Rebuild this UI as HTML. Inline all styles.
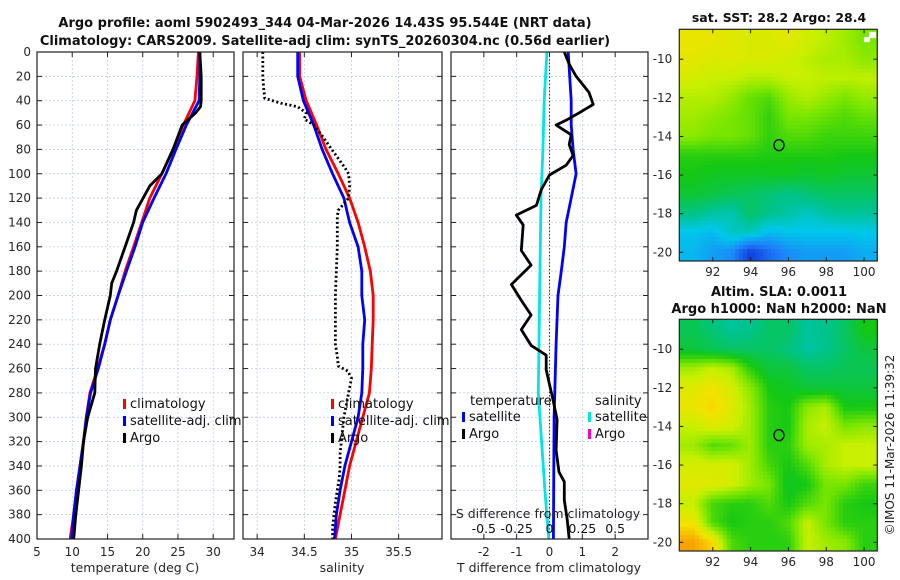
<!DOCTYPE html>
<html><head><meta charset="utf-8">
<style>
body{margin:0;background:#fff;width:900px;height:580px;overflow:hidden;font-family:"DejaVu Sans","Liberation Sans",sans-serif;}
#root{position:relative;width:900px;height:580px;}
svg text{font-family:"DejaVu Sans","Liberation Sans",sans-serif;}
canvas{position:absolute;}
</style></head>
<body><div id="root">
<canvas id="map1" style="left:679px;top:29px" width="198" height="232"></canvas>
<canvas id="map2" style="left:679px;top:319px" width="198" height="232"></canvas>
<svg id="svg" width="900" height="580" style="position:absolute;left:0;top:0"></svg>
</div>
<script>
// ---- data ----
const depthT = [0,20,40,60,80,100,120,140,160,180,200,220,240,260,280,300,320,340,360,380,400];
const tempClim = [27.9,27.7,27.4,25.75,24.3,22.7,21.0,19.85,18.7,17.5,16.5,15.4,14.6,13.6,12.5,12.0,11.6,11.1,10.6,10.2,9.7];
const tempSat = [28.1,28.1,28.0,26.2,24.7,23.3,21.6,20.0,18.9,17.7,16.5,15.4,14.6,13.7,12.6,12.0,11.6,11.1,10.6,10.2,9.9];
const depthArgoT = [0,20,40,45,50,60,80,100,110,130,140,160,180,190,200,220,240,260,280,300,320,340,360,380,400];
const tempArgo = [28.1,28.3,28.3,28.2,27.5,25.6,24.3,22.7,21.0,19.1,18.7,17.5,16.3,15.6,15.4,14.6,13.9,13.3,13.2,12.2,11.6,11.3,10.9,10.5,10.2];
const salClim = [34.45,34.45,34.52,34.63,34.73,34.86,34.98,35.07,35.14,35.2,35.23,35.23,35.22,35.21,35.19,35.12,35.05,34.98,34.93,34.88,34.83];
const salSat = [34.43,34.43,34.49,34.6,34.69,34.8,34.92,34.98,35.07,35.11,35.11,35.14,35.12,35.12,35.11,35.07,35.0,34.93,34.88,34.84,34.82];
const depthArgoS = [0,20,30,38,42,45,50,55,60,70,80,95,100,110,120,130,135,160,200,240,250,258,262,268,280,300,330,340,350,370,390,400];
const salArgo = [34.06,34.06,34.07,34.08,34.25,34.43,34.52,34.5,34.6,34.7,34.79,34.93,34.97,34.98,34.97,34.86,34.85,34.85,34.83,34.83,34.85,34.86,34.96,35.0,34.97,34.92,34.88,34.88,34.87,34.83,34.8,34.8];
const depthDiff = [0,10,20,33,43,50,56,60,68,76,85,93,101,113,126,134,142,163,175,183,191,204,216,228,241,249,261,273,286,302,327,345,353,368,384,400];
const tDiffArgo = [0.45,0.6,0.81,1.2,1.33,0.9,0.51,0.2,0.66,0.6,0.72,0.51,0,-0.25,-0.4,-1.01,-0.8,-0.86,-0.56,-0.86,-1.16,-0.86,-0.56,-0.86,-0.56,-0.1,-0.1,0,0.11,0.23,0.2,0.29,0.45,0.45,0.54,0.6];
const depthDiffSat = [0,40,60,80,100,120,140,160,180,200,240,300,400];
const tDiffSat = [0.57,0.66,0.66,0.72,0.81,0.66,0.51,0.45,0.36,0.26,0.2,0.14,0.12];
const depthSDiff = [0,40,80,120,160,200,240,280,320,360,400];
const sDiffSat = [-0.02,-0.04,-0.05,-0.065,-0.07,-0.075,-0.08,-0.085,-0.06,-0.035,-0.005];
const depthTicks = [0,20,40,60,80,100,120,140,160,180,200,220,240,260,280,300,320,340,360,380,400];
const tempTicks = [5,10,15,20,25,30];
const salTicks = [34,34.5,35,35.5];
const tdTicks = [-2,-1,0,1,2];
const sdTicks = [-0.5,-0.25,0,0.25,0.5];
const sdTickLabels = ["-0.5","-0.25","0","0.25","0.5"];
const sstGrid = [
[.84,.84,.82,.81,.81,.83,.79,.77,.74,.7],
[.83,.81,.82,.81,.81,.79,.77,.75,.75,.72],
[.8,.78,.78,.76,.76,.78,.78,.77,.77,.77],
[.76,.76,.73,.68,.66,.73,.76,.73,.7,.73],
[.74,.72,.7,.68,.63,.7,.7,.68,.66,.68],
[.72,.7,.7,.68,.63,.66,.66,.64,.64,.64],
[.62,.62,.62,.62,.61,.61,.61,.61,.6,.6],
[.6,.58,.58,.58,.58,.58,.56,.58,.56,.56],
[.56,.54,.52,.5,.48,.45,.48,.5,.5,.5],
[.46,.42,.4,.5,.45,.42,.38,.42,.44,.43],
[.32,.3,.38,.38,.3,.32,.32,.32,.32,.33],
[.3,.25,.22,.05,.15,.22,.25,.25,.25,.28]];
const slaGrid = [
[.52,.48,.43,.45,.5,.5,.43,.45,.5,.6],
[.55,.52,.5,.5,.5,.47,.42,.45,.5,.55],
[.74,.78,.75,.62,.55,.55,.5,.5,.52,.52],
[.82,.85,.8,.72,.6,.58,.55,.55,.55,.55],
[.84,.88,.82,.74,.62,.6,.72,.75,.6,.6],
[.78,.82,.8,.74,.62,.6,.75,.78,.7,.72],
[.74,.66,.68,.74,.62,.62,.74,.75,.78,.78],
[.8,.8,.8,.74,.65,.6,.66,.75,.78,.78],
[.82,.82,.8,.74,.7,.58,.6,.7,.7,.64],
[.78,.65,.62,.62,.66,.6,.66,.7,.62,.6],
[.85,.66,.6,.62,.62,.66,.78,.7,.62,.62],
[.95,.88,.66,.62,.62,.62,.78,.74,.72,.62]];
const gridLats = [-9,-10,-11,-12,-13,-14,-15,-16,-17,-18,-19,-20];
const gridLons = [91,92,93,94,95,96,97,98,99,100];
const lonTicks = [92,94,96,98,100];
const latTicks = [-10,-12,-14,-16,-18,-20];
const argoLon = 95.5, argoLat = -14.45;

// ---- axes ----
const NS='http://www.w3.org/2000/svg';
const svg=document.getElementById('svg');
function el(tag,attrs,parent){const e=document.createElementNS(NS,tag);for(const k in attrs)e.setAttribute(k,attrs[k]);(parent||svg).appendChild(e);return e;}
const yTop=52, yBot=539;
const yD=d=>yTop+d*(yBot-yTop)/400;
const panels=[
 {name:'temperature-panel',x0:37,x1:234,min:5,max:32.95},
 {name:'salinity-panel',x0:243,x1:442,min:33.85,max:35.96},
 {name:'difference-panel',x0:451,x1:648,min:-3,max:3}];
const xs=panels.map(p=>v=>p.x0+(v-p.min)*(p.x1-p.x0)/(p.max-p.min));
const xS=v=>xs[2](v*4);

function panelFrame(i,ticks,labels,labelY){
 const p=panels[i];
 const g=el('g',{});
 
 
 ticks.forEach(t=>{const x=xs[i](t);el('line',{x1:x,x2:x,y1:yTop,y2:yBot,stroke:'#b8c4dc','stroke-width':0.7,'stroke-dasharray':'2,2'},g);
  el('line',{x1:x,x2:x,y1:yBot,y2:yBot-5,stroke:'#222'},g);el('line',{x1:x,x2:x,y1:yTop,y2:yTop+5,stroke:'#222'},g);});
 depthTicks.forEach(d=>{const y=yD(d);el('line',{x1:p.x0,x2:p.x1,y1:y,y2:y,stroke:'#b8c4dc','stroke-width':0.7,'stroke-dasharray':'2,2'},g);
  el('line',{x1:p.x0,x2:p.x0+5,y1:y,y2:y,stroke:'#222'},g);el('line',{x1:p.x1,x2:p.x1-5,y1:y,y2:y,stroke:'#222'},g);});
 if(labels) ticks.forEach((t,j)=>{const tx=el('text',{x:xs[i](t),y:labelY,'font-size':12,'text-anchor':'middle',fill:'#262626'},g);tx.textContent=labels[j];});
 return g;
}
function frame(i,g){const p=panels[i];el('rect',{x:p.x0,y:yTop,width:p.x1-p.x0,height:yBot-yTop,fill:'none',stroke:'#222','stroke-width':1.2},g);}
function line(xf,vals,deps,color,name,extra,g){
 const pts=vals.map((v,k)=>xf(v).toFixed(1)+','+yD(deps[k]).toFixed(1)).join(' ');
 const e=el('polyline',Object.assign({points:pts,fill:'none',stroke:color,'stroke-width':2.8,'stroke-linejoin':'round'},extra||{}),g);
 
 
 return e;
}
function txt(x,y,s,attrs,name,g){const t=el('text',Object.assign({x:x,y:y,'font-size':12,fill:'#262626'},attrs||{}),g);t.textContent=s;return t;}
function legendEntry(x,y,color,label,name){
 const g=el('g',{});
 
 
 el('rect',{x:x,y:y-9,width:3,height:10,fill:color},g);
 const t=el('text',{x:x+7,y:y,'font-size':13,fill:'#111'},g);t.textContent=label;
}

// panel 1
const g1=panelFrame(0,tempTicks,tempTicks.map(String),556);
depthTicks.forEach(d=>txt(31,yD(d)+4,String(d),{'text-anchor':'end'},'y-tick-label',g1));
line(xs[0],tempClim,depthT,'#f00','temp-climatology-line',{},g1);
line(xs[0],tempSat,depthT,'#00f','temp-satellite-line',{},g1);
line(xs[0],tempArgo,depthArgoT,'#000','temp-argo-line',{},g1);
frame(0,g1);
txt(135,572,'temperature (deg C)',{'font-size':12.5,'text-anchor':'middle'},'x-axis-title-temperature',g1);
legendEntry(123,408,'#f00','climatology','legend-climatology');
legendEntry(123,425,'#00f','satellite-adj. clim','legend-satellite');
legendEntry(123,442,'#000','Argo','legend-argo');

// panel 2
const g2=panelFrame(1,salTicks,['34','34.5','35','35.5'],556);
line(xs[1],salClim,depthT,'#f00','sal-climatology-line',{},g2);
line(xs[1],salSat,depthT,'#00f','sal-satellite-line',{},g2);
line(xs[1],salArgo,depthArgoS,'#000','sal-argo-line',{'stroke-dasharray':'2,2.5'},g2);
frame(1,g2);
txt(342,572,'salinity',{'font-size':12.5,'text-anchor':'middle'},'x-axis-title-salinity',g2);
legendEntry(331,408,'#f00','climatology','legend-climatology-2');
legendEntry(331,425,'#00f','satellite-adj. clim','legend-satellite-2');
legendEntry(331,442,'#000','Argo','legend-argo-2');

// panel 3
const g3=panelFrame(2,tdTicks,tdTicks.map(String),556);
el('line',{x1:xs[2](0),x2:xs[2](0),y1:yTop,y2:yBot,stroke:'#333','stroke-width':1,'stroke-dasharray':'1.5,2'},g3);
line(xS,sDiffSat,depthSDiff,'#00e5e5','sal-diff-satellite-line',{},g3);
line(xs[2],tDiffSat,depthDiffSat,'#00f','temp-diff-satellite-line',{},g3);
line(xs[2],tDiffArgo,depthDiff,'#000','temp-diff-argo-line',{},g3);
frame(2,g3);
txt(549,572,'T difference from climatology',{'font-size':12.5,'text-anchor':'middle'},'x-axis-title-tdiff',g3);
txt(548,518,'S difference from climatology',{'font-size':12.5,'text-anchor':'middle'},'x-axis-title-sdiff',g3);
sdTicks.forEach((s,j)=>txt(xS(s),533,sdTickLabels[j],{'text-anchor':'middle','font-size':12.5,fill:'#111'},'s-tick-label',g3));
txt(470,405,'temperature',{'font-size':13,fill:'#111'},'legend-header-temperature',g3);
txt(595,405,'salinity',{'font-size':13,fill:'#111'},'legend-header-salinity',g3);
legendEntry(462,421,'#00f','satellite','legend-temp-satellite');
legendEntry(462,438,'#000','Argo','legend-temp-argo');
legendEntry(588,421,'#00e5e5','satellite','legend-sal-satellite');
legendEntry(588,438,'#ff00cc','Argo','legend-sal-argo');

// titles
txt(325,27,'Argo profile: aoml 5902493_344 04-Mar-2026 14.43S 95.544E (NRT data)',{'font-size':13,'font-weight':'bold','text-anchor':'middle',fill:'#111'},'chart-title-line1');
txt(325,45,'Climatology: CARS2009. Satellite-adj clim: synTS_20260304.nc (0.56d earlier)',{'font-size':13,'font-weight':'bold','text-anchor':'middle',fill:'#111'},'chart-title-line2');
txt(779,22,'sat. SST: 28.2 Argo: 28.4',{'font-size':12.5,'font-weight':'bold','text-anchor':'middle',fill:'#111'},'sst-map-title');
txt(779,296,'Altim. SLA: 0.0011',{'font-size':13,'font-weight':'bold','text-anchor':'middle',fill:'#111'},'sla-map-title');
txt(779,313,'Argo h1000: NaN h2000: NaN',{'font-size':13,'font-weight':'bold','text-anchor':'middle',fill:'#111'},'sla-map-subtitle');
txt(894,445,'©IMOS 11-Mar-2026 11:39:32',{'font-size':12,'text-anchor':'middle',transform:'rotate(-90 894 445)',fill:'#222'},'timestamp-credit');

// ---- maps ----
const mapBox={x0:679.3,x1:877.3,lonMin:90.23,lonMax:100.7,latTop:-8.45,latBot:-20.45};
function cmap(v){
 const stops=[[0,[10,40,210]],[0.2,[30,130,250]],[0.33,[0,200,235]],[0.45,[0,195,140]],[0.6,[20,200,20]],[0.7,[120,230,0]],[0.78,[200,240,0]],[0.86,[245,225,0]],[1,[250,130,0]]];
 v=Math.max(0,Math.min(1,v));
 for(let i=1;i<stops.length;i++){if(v<=stops[i][0]){const a=stops[i-1],b=stops[i];const f=(v-a[0])/(b[0]-a[0]);return a[1].map((c,k)=>Math.round(c+(b[1][k]-c)*f));}}
 return stops[stops.length-1][1];
}
function sample(grid,lon,lat){
 let fi=(gridLats[0]-lat); let fj=(lon-gridLons[0]);
 fi=Math.max(0,Math.min(gridLats.length-1.001,fi)); fj=Math.max(0,Math.min(gridLons.length-1.001,fj));
 const i=Math.floor(fi),j=Math.floor(fj),a=fi-i,b=fj-j;
 return grid[i][j]*(1-a)*(1-b)+grid[i+1][j]*a*(1-b)+grid[i][j+1]*(1-a)*b+grid[i+1][j+1]*a*b;
}
function drawMap(id,grid,cell){
 const c=document.getElementById(id),ctx=c.getContext('2d');
 const W=c.width,H=c.height;
 for(let y=0;y<H;y+=cell)for(let x=0;x<W;x+=cell){
  const lon=mapBox.lonMin+(x+cell/2)/W*(mapBox.lonMax-mapBox.lonMin);
  const lat=mapBox.latTop+(y+cell/2)/H*(mapBox.latBot-mapBox.latTop);
  const col=cmap(sample(grid,lon,lat));ctx.fillStyle='rgb('+col+')';ctx.fillRect(x,y,cell,cell);}
}
drawMap('map1',sstGrid,4);
drawMap('map2',slaGrid,4);
(function(){const ctx=document.getElementById('map1').getContext('2d');ctx.fillStyle='#fff';ctx.fillRect(185,8,6,5);ctx.fillRect(190,3,7,6);})();

function mapAxes(top,bot,name){
 const g=el('g',{});
 
 
 const mx=v=>mapBox.x0+(v-mapBox.lonMin)*(mapBox.x1-mapBox.x0)/(mapBox.lonMax-mapBox.lonMin);
 const my=v=>top+(v-mapBox.latTop)*(bot-top)/(mapBox.latBot-mapBox.latTop);
 el('rect',{x:mapBox.x0,y:top,width:mapBox.x1-mapBox.x0,height:bot-top,fill:'none',stroke:'#222','stroke-width':1.2},g);
 lonTicks.forEach(l=>{const x=mx(l);el('line',{x1:x,x2:x,y1:bot,y2:bot-4,stroke:'#222'},g);el('line',{x1:x,x2:x,y1:top,y2:top+4,stroke:'#222'},g);
  const t=el('text',{x:x,y:bot+15,'font-size':12,'text-anchor':'middle',fill:'#262626'},g);t.textContent=String(l);});
 latTicks.forEach(l=>{const y=my(l);el('line',{x1:mapBox.x0,x2:mapBox.x0+4,y1:y,y2:y,stroke:'#222'},g);el('line',{x1:mapBox.x1,x2:mapBox.x1-4,y1:y,y2:y,stroke:'#222'},g);
  const t=el('text',{x:mapBox.x0-7,y:y+4,'font-size':12,'text-anchor':'end',fill:'#262626'},g);t.textContent=String(l);});
 const c=el('ellipse',{cx:mx(argoLon),cy:my(argoLat),rx:5,ry:5.5,fill:'none',stroke:'#000','stroke-width':1.3},g);
 
 
}
mapAxes(29.3,261,'sst-map-axes');
mapAxes(319.3,551,'sla-map-axes');
</script>
</body></html>
